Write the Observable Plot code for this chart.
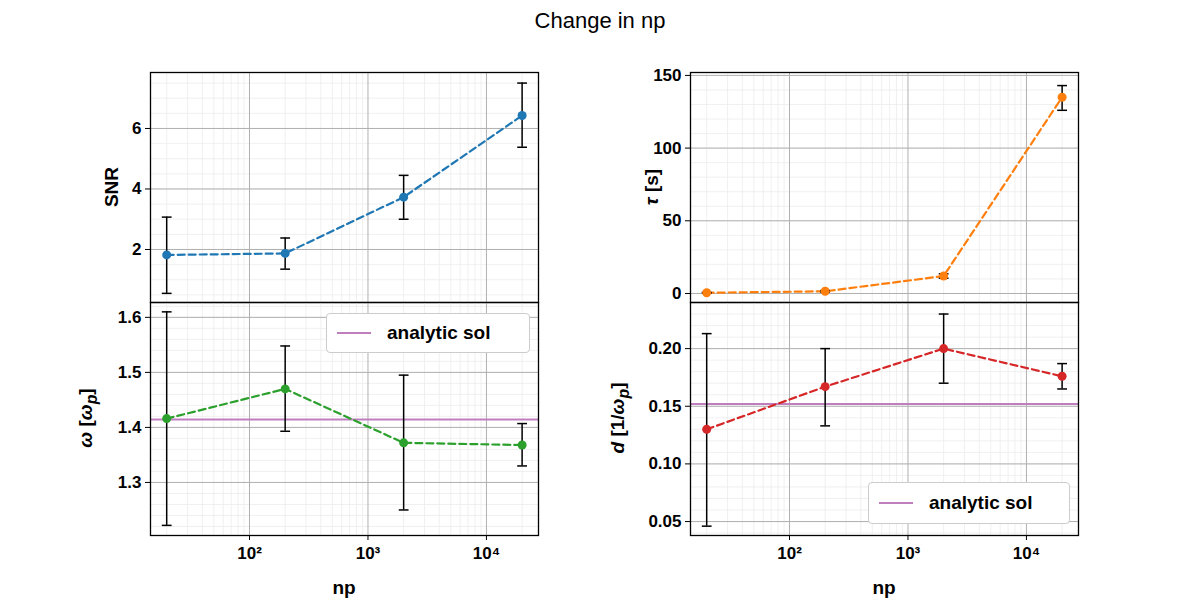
<!DOCTYPE html>
<html><head><meta charset="utf-8">
<script src="https://cdn.jsdelivr.net/npm/d3@7"></script>
<script src="https://cdn.jsdelivr.net/npm/@observablehq/plot@0.6"></script>
<style>
body{margin:0;background:#fff;font-family:"Liberation Sans",Arial,sans-serif}
#wrap{position:relative;width:1200px;height:600px}
#wrap svg{position:absolute;left:0;top:0}
#wrap svg text{font-size:17px;font-weight:bold}
.lab{position:absolute;font-weight:bold;font-size:19px;white-space:nowrap}
.rot{transform:translate(-50%,-50%) rotate(-90deg)}
.leg{position:absolute;border:1px solid #ccc;border-radius:4px;background:#fff;font-weight:bold;font-size:19px;display:flex;align-items:center}
.leg span{display:inline-block;width:34px;height:2px;background:#bf7fbf;margin:0 16px 0 10px}
</style></head><body>
<div id="wrap"></div>
<script>
const np = [20, 200, 2000, 20000];
const snr = [1.82, 1.87, 3.73, 6.43];
const snrLo = [0.55, 1.35, 3.0, 5.38];
const snrHi = [3.07, 2.38, 4.45, 7.5];
const tau = [0.5, 1.5, 12, 135];
const tauLo = [0.2, 1.0, 10.5, 126];
const tauHi = [0.8, 2.0, 13.5, 143];
const omega = [1.416, 1.47, 1.372, 1.368];
const omegaLo = [1.222, 1.393, 1.25, 1.33];
const omegaHi = [1.61, 1.548, 1.495, 1.407];
const damp = [0.13, 0.167, 0.2, 0.176];
const dampLo = [0.046, 0.133, 0.17, 0.165];
const dampHi = [0.213, 0.2, 0.23, 0.187];
const omegaAnalytic = 1.4142;
const dampAnalytic = 0.152;

const minorX = [];
for (const e of [1, 2, 3, 4]) for (let k = 2; k <= 9; k++) minorX.push(k * 10 ** e);
const sup = {"1":"¹","2":"²","3":"³","4":"⁴"};

function panel({vals, lo, hi, color, ydom, yticks, yminor, frame, showX, analytic, yfmt}) {
  const data = np.map((x, i) => ({x, y: vals[i], lo: lo[i], hi: hi[i]}));
  const marks = [
    Plot.ruleX(minorX.filter(v => v > 14.6 && v < 27500), {stroke: "#ececec", strokeWidth: 0.8}),
    Plot.ruleY(yminor, {stroke: "#ececec", strokeWidth: 0.8}),
    Plot.ruleX([100, 1000, 10000], {stroke: "#b0b0b0", strokeWidth: 1}),
    Plot.ruleY(yticks, {stroke: "#b0b0b0", strokeWidth: 1})
  ];
  if (analytic != null) marks.push(Plot.ruleY([analytic], {stroke: "#bf7fbf", strokeWidth: 2}));
  marks.push(
    Plot.line(data, {x: "x", y: "y", stroke: color, strokeWidth: 2.2, strokeDasharray: "7,4"}),
    Plot.ruleX(data, {x: "x", y1: "lo", y2: "hi", stroke: "#000", strokeWidth: 1.5}),
    Plot.link(data, {x1: d => d.x / 1.1, x2: d => d.x * 1.1, y1: "lo", y2: "lo", stroke: "#000", strokeWidth: 1.5}),
    Plot.link(data, {x1: d => d.x / 1.1, x2: d => d.x * 1.1, y1: "hi", y2: "hi", stroke: "#000", strokeWidth: 1.5}),
    Plot.dot(data, {x: "x", y: "y", fill: color, r: 4.5}),
    Plot.frame({stroke: "#000", strokeWidth: 1.3}),
    Plot.axisY(yticks, {tickFormat: yfmt, tickSize: 5, label: null, tickPadding: 4}),
    Plot.axisX(showX ? [100, 1000, 10000] : [], {tickFormat: d => "10" + sup[String(Math.round(Math.log10(d)))], tickSize: 5, label: null, tickPadding: 6})
  );
  return Plot.plot({
    width: 1200, height: 600,
    marginLeft: frame[0], marginRight: 1200 - frame[1], marginTop: frame[2], marginBottom: 600 - frame[3],
    x: {type: "log", domain: [14.6, 27500]},
    y: {domain: ydom},
    style: {background: "transparent", fontFamily: "Liberation Sans, Arial, sans-serif", fontSize: "17px", color: "#000"},
    marks
  });
}

const wrap = document.getElementById("wrap");
const range = (a, b, s) => d3.range(a, b + s / 2, s);
wrap.append(panel({vals: snr, lo: snrLo, hi: snrHi, color: "#1f77b4", ydom: [0.248, 7.85],
  yticks: [2, 4, 6], yminor: range(0.5, 7.5, 0.5), frame: [150, 538, 72, 302], showX: false, yfmt: d => d}));
wrap.append(panel({vals: tau, lo: tauLo, hi: tauHi, color: "#ff7f0e", ydom: [-6.2, 152],
  yticks: [0, 50, 100, 150], yminor: range(10, 140, 10), frame: [690, 1078, 72, 302], showX: false, yfmt: d => d}));
wrap.append(panel({vals: omega, lo: omegaLo, hi: omegaHi, color: "#2ca02c", ydom: [1.2036, 1.627],
  yticks: [1.3, 1.4, 1.5, 1.6], yminor: range(1.22, 1.62, 0.02), frame: [150, 538, 302, 535], showX: true,
  analytic: omegaAnalytic, yfmt: d3.format(".1f")}));
wrap.append(panel({vals: damp, lo: dampLo, hi: dampHi, color: "#d62728", ydom: [0.0379, 0.240],
  yticks: [0.05, 0.1, 0.15, 0.2], yminor: range(0.04, 0.23, 0.01), frame: [690, 1078, 302, 535], showX: true,
  analytic: dampAnalytic, yfmt: d3.format(".2f")}));

wrap.insertAdjacentHTML("beforeend", `
<div class="lab" style="left:600px;top:8px;transform:translateX(-50%);font-weight:normal;font-size:22px">Change in np</div>
<div class="lab rot" style="left:112px;top:187px">SNR</div>
<div class="lab rot" style="left:652px;top:187px"><i>τ</i> [s]</div>
<div class="lab rot" style="left:88px;top:418px"><i>ω</i> [<i>ω<sub>p</sub></i>]</div>
<div class="lab rot" style="left:620px;top:418px"><i>d</i> [1/<i>ω<sub>p</sub></i>]</div>
<div class="lab" style="left:344px;top:577px;transform:translateX(-50%)">np</div>
<div class="lab" style="left:884px;top:577px;transform:translateX(-50%)">np</div>
<div class="leg" style="left:326px;top:313px;width:202px;height:38px"><span></span>analytic sol</div>
<div class="leg" style="left:868px;top:482px;width:200px;height:40px"><span></span>analytic sol</div>
`);
</script>
</body></html>
